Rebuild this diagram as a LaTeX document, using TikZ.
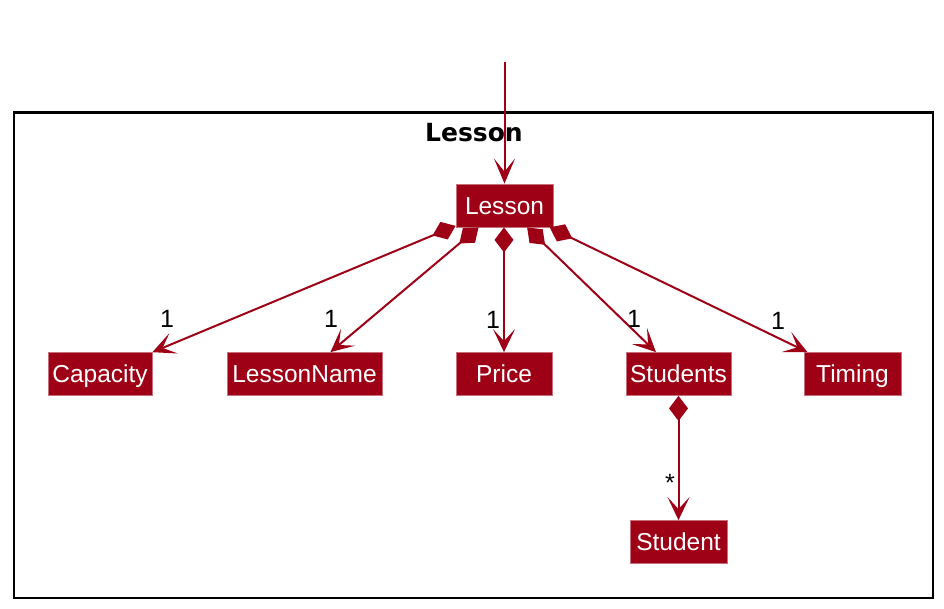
\documentclass[tikz,border=0pt]{standalone}
\usepackage{fontspec}
\setmainfont{Liberation Sans}
\newfontfamily\titlefont{DejaVu Sans}
\usetikzlibrary{arrows.meta}
\definecolor{umlred}{RGB}{158,0,22}
\definecolor{umledge}{RGB}{200,110,125}
\begin{document}
\begin{tikzpicture}[x=1pt,y=-1pt,
  cls/.style={draw=umledge,line width=0.8pt,fill=umlred,text=white,
    font=\fontsize{24.5}{28}\selectfont,minimum height=43pt,
    text height=17pt,text depth=0pt,inner xsep=3pt,inner ysep=0pt},
  conn/.style={draw=umlred,line width=2pt},
  comp/.style={conn,{Diamond[length=25pt,width=19pt]}-{Stealth[length=23pt,width=22pt,inset=12pt]}},
  mult/.style={font=\fontsize{25}{28}\selectfont,inner sep=0pt,anchor=center}
]
\useasboundingbox (0,0) rectangle (944,608);
\draw[line width=2.6pt] (14,112.5) rectangle (933,598);
\node[font=\titlefont\bfseries\fontsize{25}{28}\selectfont,inner sep=0pt] (title) at (474,133) {Lesson};

\node[cls,minimum width=97pt] (lesson) at (504.5,205.5) {Lesson};
\node[cls,minimum width=104pt] (capacity) at (100,374) {Capacity};
\node[cls,minimum width=155pt] (lname) at (304.5,374) {LessonName};
\node[cls,minimum width=96pt] (price) at (504,374) {Price};
\node[cls,minimum width=105pt] (students) at (678.5,374) {Students};
\node[cls,minimum width=97pt] (timing) at (852.5,374) {Timing};
\node[cls,minimum width=97pt] (student) at (678.5,542) {Student};

\coordinate (entry) at (504.5,62);
\draw[conn,-{Stealth[length=25pt,width=21pt,inset=13pt]}] (entry) -- (lesson.north);

\draw[comp] (lesson) -- (capacity);
\draw[comp] (lesson) -- (lname);
\draw[comp] (lesson.south -| price.north) -- (price.north);
\draw[comp] (lesson) -- (students);
\draw[comp] (lesson) -- (timing);
\draw[comp] (students.south) -- (student.north);

\node[mult] (m1) at (167,319) {1};
\node[mult] (m2) at (331,319) {1};
\node[mult] (m3) at (493,320) {1};
\node[mult] (m4) at (634,319) {1};
\node[mult] (m5) at (778,321) {1};
\node[mult] (m6) at (670,483) {*};
\end{tikzpicture}
\end{document}
